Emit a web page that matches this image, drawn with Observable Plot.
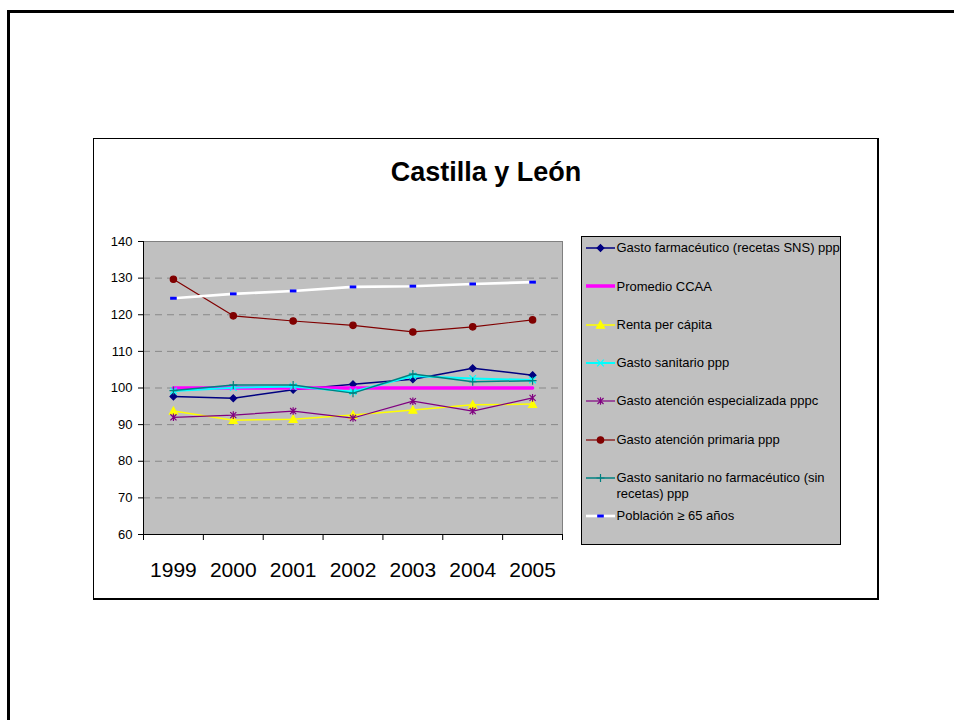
<!DOCTYPE html>
<html>
<head>
<meta charset="utf-8">
<script src="https://cdn.jsdelivr.net/npm/d3@7"></script>
<script src="https://cdn.jsdelivr.net/npm/@observablehq/plot@0.6"></script>
<style>
  html, body { margin: 0; padding: 0; background: #fff; }
  #page { position: relative; width: 954px; height: 720px; overflow: hidden; font-family: "Liberation Sans", Arial, sans-serif; }
  #outer { position: absolute; left: 7px; top: 10px; width: 960px; height: 720px; border-left: 3px solid #000; border-top: 3px solid #000; }
  #chartframe { position: absolute; left: 93px; top: 138px; width: 786px; height: 462px; box-sizing: border-box; border: 1px solid #000; border-right-width: 2px; border-bottom-width: 2px; }
  #plot { position: absolute; left: 0; top: 0; }
  #title { position: absolute; left: 93px; width: 786px; top: 159px; text-align: center; font-weight: bold; font-size: 27px; line-height: 27px; color: #000; }
  #legend { position: absolute; left: 581px; top: 236px; width: 260px; height: 309px; box-sizing: border-box; border: 1px solid #000; background: #c0c0c0; overflow: hidden; }
  .lg-item { position: absolute; left: 0; width: 260px; }
  .lg-item svg { position: absolute; left: 0; top: 0; overflow: visible; }
  .lg-text { position: absolute; left: 34.5px; font-size: 13px; line-height: 16px; white-space: pre; color: #000; }
</style>
</head>
<body>
<div id="page">
  <div id="outer"></div>
  <div id="chartframe"></div>
  <div id="plot"></div>
  <div id="title"></div>
  <div id="legend"></div>
</div>
<script>
// ---------- data ----------
const chartTitle = "Castilla y León";
const years = [1999, 2000, 2001, 2002, 2003, 2004, 2005];
const yTicks = [60, 70, 80, 90, 100, 110, 120, 130, 140];
const gridValues = [70, 80, 90, 100, 110, 120, 130];

const farmaceutico   = [97.7, 97.2, 99.5, 101.0, 102.4, 105.4, 103.5];
const promedio       = [100, 100, 100, 100, 100, 100, 100];
const renta          = [93.7, 91.2, 91.5, 92.6, 94.0, 95.4, 95.6];
const sanitario      = [99.2, 100.1, 100.4, 99.0, 103.3, 102.6, 102.2];
const especializada  = [92.0, 92.6, 93.7, 91.8, 96.4, 93.7, 97.3];
const primaria       = [129.7, 119.7, 118.3, 117.1, 115.3, 116.7, 118.6];
const noFarmaceutico = [99.3, 100.8, 100.8, 98.6, 103.8, 101.7, 102.0];
const poblacion      = [124.5, 125.7, 126.5, 127.6, 127.8, 128.4, 128.9];

const seriesNames = [
  "Gasto farmacéutico (recetas SNS) ppp",
  "Promedio CCAA",
  "Renta per cápita",
  "Gasto sanitario ppp",
  "Gasto atención especializada pppc",
  "Gasto atención primaria ppp",
  "Gasto sanitario no farmacéutico (sin\nrecetas) ppp",
  "Población ≥ 65 años"
];
const seriesValues = [farmaceutico, promedio, renta, sanitario, especializada, primaria, noFarmaceutico, poblacion];

// ---------- styles ----------
const R = (s) => Math.sqrt(s / Math.PI);
const symbols = {
  diamond: { draw(c, s) { const r = R(s); c.moveTo(0, -r); c.lineTo(r, 0); c.lineTo(0, r); c.lineTo(-r, 0); c.closePath(); } },
  triangle: { draw(c, s) { const r = R(s); c.moveTo(0, -r); c.lineTo(r, r * 0.8); c.lineTo(-r, r * 0.8); c.closePath(); } },
  times: { draw(c, s) { const r = R(s); c.moveTo(-r, -r); c.lineTo(r, r); c.moveTo(r, -r); c.lineTo(-r, r); } },
  plus: { draw(c, s) { const r = R(s); c.moveTo(-r, 0); c.lineTo(r, 0); c.moveTo(0, -r); c.lineTo(0, r); } },
  star: { draw(c, s) { const r = R(s); const d = r * 0.8; c.moveTo(-d, -d); c.lineTo(d, d); c.moveTo(d, -d); c.lineTo(-d, d); c.moveTo(0, -r); c.lineTo(0, r); } },
  circle: { draw(c, s) { const r = R(s); c.moveTo(r, 0); c.arc(0, 0, r, 0, 2 * Math.PI); c.closePath(); } },
  dash: { draw(c, s) { const r = R(s); const h = r * 0.45; c.rect(-r, -h, 2 * r, 2 * h); } }
};
const seriesStyles = [
  { stroke: "#000080", width: 1.5, symbol: symbols.diamond, r: 3.4, fill: "#000080", mstroke: "#000080" },
  { stroke: "#FF00FF", width: 3.5, symbol: null },
  { stroke: "#FFFF00", width: 1.5, symbol: symbols.triangle, r: 4, fill: "#FFFF00", mstroke: "#FFFF00" },
  { stroke: "#00FFFF", width: 2, symbol: symbols.times, r: 3.3, fill: "none", mstroke: "#00FFFF" },
  { stroke: "#800080", width: 1.2, symbol: symbols.star, r: 3.8, fill: "none", mstroke: "#800080" },
  { stroke: "#800000", width: 1.2, symbol: symbols.circle, r: 3.2, fill: "#800000", mstroke: "#800000" },
  { stroke: "#008080", width: 1.5, symbol: symbols.plus, r: 4, fill: "none", mstroke: "#008080" },
  { stroke: "#FFFFFF", width: 2.6, symbol: symbols.dash, r: 3.3, fill: "#0000FF", mstroke: "none" }
];

// ---------- chart ----------
const boundaries = years.map(y => y - 0.5).concat([years[years.length - 1] + 0.5]);
const seriesRows = seriesValues.map(vals => years.map((yr, i) => ({ year: yr, value: vals[i] })));

const marks = [
  Plot.frame({ fill: "#c0c0c0", stroke: "none" }),
  Plot.ruleY(gridValues, { stroke: "#888888", strokeDasharray: "7,5", strokeWidth: 1 }),
  Plot.ruleY([yTicks[yTicks.length - 1]], { stroke: "#808080" }),
  Plot.ruleX([boundaries[boundaries.length - 1]], { stroke: "#808080" }),
  Plot.ruleX([boundaries[0]], { stroke: "#000" }),
  Plot.ruleY([yTicks[0]], { stroke: "#000" }),
  Plot.axisY(yTicks, { tickSize: 5, tickPadding: 6, fontSize: 13, label: null, tickFormat: d => String(d) }),
  Plot.axisX(boundaries, { tickSize: 6, tickFormat: () => "", label: null }),
  Plot.axisX(years, { tickSize: 0, tickPadding: 28, fontSize: 21, label: null, tickFormat: d => String(d) })
];
seriesRows.forEach((rows, i) => {
  const st = seriesStyles[i];
  marks.push(Plot.line(rows, { x: "year", y: "value", stroke: st.stroke, strokeWidth: st.width }));
  if (st.symbol) {
    marks.push(Plot.dot(rows, { x: "year", y: "value", symbol: st.symbol, r: st.r, fill: st.fill, stroke: st.mstroke, strokeWidth: 1.2 }));
  }
});

const chart = Plot.plot({
  width: 954,
  height: 720,
  marginLeft: 143,
  marginRight: 392,
  marginTop: 241,
  marginBottom: 186,
  style: { background: "transparent", fontFamily: "'Liberation Sans', Arial, sans-serif", color: "#000", overflow: "visible" },
  x: { type: "linear", domain: [boundaries[0], boundaries[boundaries.length - 1]], label: null },
  y: { type: "linear", domain: [yTicks[0], yTicks[yTicks.length - 1]], label: null },
  marks
});
document.getElementById("plot").appendChild(chart);
document.getElementById("title").textContent = chartTitle;

// ---------- legend ----------
const legend = d3.select("#legend");
seriesNames.forEach((name, i) => {
  const st = seriesStyles[i];
  const cy = 11 + 38.3 * i; // line centre inside legend box
  const item = legend.append("div").attr("class", "lg-item").style("top", cy + "px");
  const svg = item.append("svg").attr("width", 40).attr("height", 1);
  svg.append("line").attr("x1", 4).attr("x2", 33).attr("y1", 0).attr("y2", 0)
    .attr("stroke", st.stroke).attr("stroke-width", st.width);
  if (st.symbol) {
    svg.append("path").attr("transform", "translate(18.5,0)")
      .attr("d", d3.symbol(st.symbol, st.r * st.r * Math.PI)())
      .attr("fill", st.fill).attr("stroke", st.mstroke).attr("stroke-width", 1.2);
  }
  item.append("div").attr("class", "lg-text").style("top", "-7.8px").text(name);
});
</script>
</body>
</html>
